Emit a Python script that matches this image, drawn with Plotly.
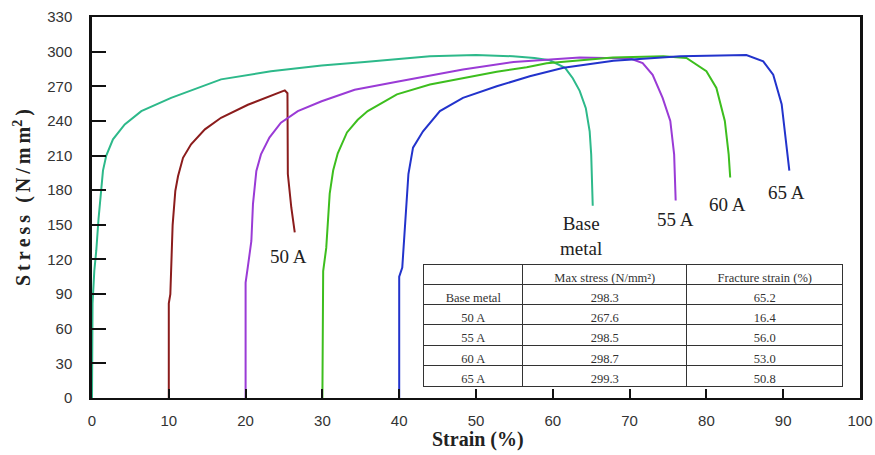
import plotly.graph_objects as go

# ---- data (strain %, stress N/mm2) ----
base_strain = [0, 0, 0.07, 0.3, 0.56, 0.85, 1.13, 1.43, 1.86, 2.73, 4.26, 6.42, 10.3, 16.8, 23.3, 29.9, 35.5,
               44.0, 50.0, 54.8, 57.6, 59.6, 61.6, 62.6, 63.5, 64.3, 64.8, 65.0, 65.2]
base_stress = [0, 56, 82, 110, 128, 155, 177, 197, 210, 224, 237, 248.5, 260, 276, 283, 288, 291,
               296, 297, 296, 294.5, 292.5, 286, 277, 266, 251, 231, 211, 166.5]

a50_strain = [10, 10, 10.2, 10.5, 10.85, 11.2, 11.85, 12.9, 14.7, 16.8, 20.3, 23.3, 25.1, 25.45, 25.5, 25.95, 26.4]
a50_stress = [0, 82, 90, 150, 179.5, 192, 208, 219.7, 232.7, 242.7, 254, 261.4, 266.5, 264, 194, 165, 143.5]

a55_strain = [20, 20.0, 20.3, 20.75, 20.96, 21.4, 22.0, 23.1, 24.6, 26.8, 29.9, 34.2, 39.7, 48.3, 54.9, 63.5,
              70.1, 71.7, 73.0, 74.3, 75.3, 75.8, 76.0]
a55_stress = [0, 100, 114, 136, 168, 196.7, 211, 225.5, 238.4, 248.5, 257, 267, 274, 284.5, 291, 295,
              294, 290, 280, 260, 240, 211, 171]

a60_strain = [30, 30.1, 30.5, 30.95, 31.4, 32.0, 33.2, 34.6, 35.9, 39.7, 44.0, 48.3, 52.7, 56.6, 59.2, 67.8,
              74.4, 77.4, 80.0, 81.3, 82.4, 82.9, 83.0, 83.1]
a60_stress = [0, 110, 130, 177, 197, 212, 230, 241, 248.5, 263, 271.5, 277, 282.5, 286.5, 290, 295,
              296, 294.5, 283, 268.6, 240, 211, 200, 191]

a65_strain = [40, 40.0, 40.4, 40.75, 41.2, 41.8, 43.1, 45.3, 48.3, 52.7, 57.0, 61.4, 67.9, 76.6, 85.2, 87.4,
              88.7, 89.8, 90.45, 90.8]
a65_stress = [0, 105, 113, 145, 194, 216.8, 231, 248.5, 260, 270, 278.7, 286, 292, 296, 297, 291.6,
              280, 254.5, 220, 197]

series_names = ["Base metal", "50 A", "55 A", "60 A", "65 A"]
series_colors = ["#2DB98A", "#8B1C1C", "#9A3BD6", "#3DBE1E", "#2233CC"]

# curve labels: text, strain, stress
label_texts = ["50 A", "Base<br>metal", "55 A", "60 A", "65 A"]
label_x = [25.65, 63.7, 76.0, 82.7, 90.4]
label_y = [122.5, 140.6, 155, 168, 178]

# table
table_header = ["", "Max stress (N/mm\u00b2)", "Fracture strain (%)"]
table_rows = ["Base metal", "50 A", "55 A", "60 A", "65 A"]
max_stress = ["298.3", "267.6", "298.5", "298.7", "299.3"]
fracture_strain = ["65.2", "16.4", "56.0", "53.0", "50.8"]

x_ticks = list(range(0, 101, 10))
y_ticks = list(range(0, 331, 30))

fig = go.Figure()
xs = [base_strain, a50_strain, a55_strain, a60_strain, a65_strain]
ys = [base_stress, a50_stress, a55_stress, a60_stress, a65_stress]
for name, c, x, y in zip(series_names, series_colors, xs, ys):
    fig.add_trace(go.Scatter(x=x, y=y, mode="lines", name=name,
                             line=dict(color=c, width=2), showlegend=False))

fig.add_trace(go.Table(
    domain=dict(x=[0.432, 0.978], y=[0.0, 0.3512]),
    columnwidth=[99, 164, 156],
    header=dict(values=table_header, height=20, align="center",
                fill_color="white", line=dict(color="#333", width=1),
                font=dict(family="Liberation Serif", size=12.5, color="#333")),
    cells=dict(values=[table_rows, max_stress, fracture_strain], height=20.4, align="center",
               fill_color="white", line=dict(color="#333", width=1),
               font=dict(family="Liberation Serif", size=12.5, color="#333")),
))

annotations = []
for t, x, y in zip(label_texts, label_x, label_y):
    annotations.append(dict(x=x, y=y, xref="x", yref="y", text=t, showarrow=False,
                            xanchor="center", yanchor="middle",
                            font=dict(family="Liberation Serif", size=19, color="#222")))

sp = "\u2009"
ytitle = sp.join("Stress") + sp * 3 + sp.join("(N/mm") + "<sup>2</sup>" + sp + ")"
annotations.append(dict(x=-0.0898, y=0.525, xref="paper", yref="paper", text="<b>" + ytitle + "</b>",
                        textangle=-90, showarrow=False, xanchor="center", yanchor="middle",
                        font=dict(family="Liberation Serif", size=20, color="#222")))
annotations.append(dict(x=0.502, y=-0.11, xref="paper", yref="paper", text="<b>Strain (%)</b>",
                        showarrow=False, xanchor="center", yanchor="middle",
                        font=dict(family="Liberation Serif", size=20, color="#222")))

fig.update_layout(
    width=875, height=455,
    margin=dict(l=92, r=15, t=17, b=57, autoexpand=False),
    paper_bgcolor="white", plot_bgcolor="white",
    annotations=annotations,
    xaxis=dict(range=[0, 100], tickvals=x_ticks, showgrid=False, zeroline=False, automargin=False,
               showline=True, linecolor="#111", linewidth=2, mirror=True,
               ticks="inside", ticklen=9, tickwidth=2, tickcolor="#111",
               ticklabelstandoff=8,
               tickfont=dict(family="Liberation Sans", size=15, color="#333")),
    yaxis=dict(range=[0, 330], tickvals=y_ticks, showgrid=False, zeroline=False, automargin=False,
               showline=True, linecolor="#111", linewidth=2.5, mirror=True,
               ticks="inside", ticklen=14, tickwidth=2, tickcolor="#111",
               ticklabelstandoff=14,
               tickfont=dict(family="Liberation Sans", size=15, color="#333")),
)

fig.write_html("out.html", config={"displayModeBar": False},
               post_script="document.body.style.margin='0';document.body.style.overflow='hidden';")
